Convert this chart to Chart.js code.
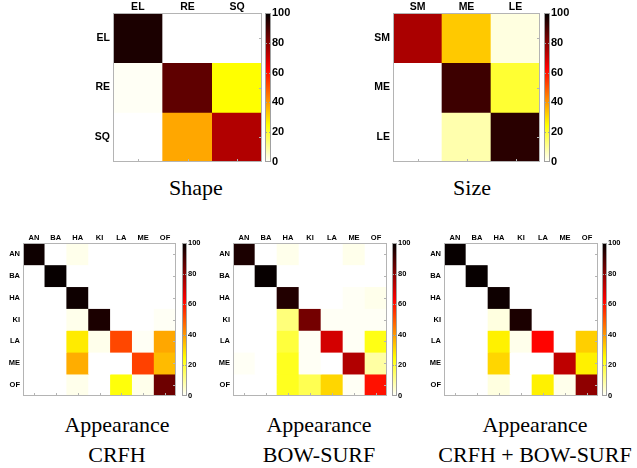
<!DOCTYPE html>
<html>
<head>
<meta charset="utf-8">
<script src="https://cdn.jsdelivr.net/npm/chart.js@4.4.1/dist/chart.umd.min.js"></script>
<style>
  body { margin: 0; background: #fff; }
  #page { position: relative; width: 637px; height: 468px; overflow: hidden; }
  canvas { position: absolute; }
  .title { position: absolute; font-family: "Liberation Serif", "DejaVu Serif", serif;
           font-size: 22px; line-height: 30px; text-align: center; color: #000; white-space: nowrap; }
</style>
</head>
<body>
<div id="page">
  <canvas id="shape"></canvas>
  <canvas id="size"></canvas>
  <canvas id="crfh"></canvas>
  <canvas id="bow"></canvas>
  <canvas id="both"></canvas>
  <div class="title" style="left:146px;width:100px;top:173px;">Shape</div>
  <div class="title" style="left:422px;width:100px;top:173px;">Size</div>
  <div class="title" style="left:37px;width:160px;top:410px;">Appearance<br>CRFH</div>
  <div class="title" style="left:239px;width:160px;top:410px;">Appearance<br>BOW-SURF</div>
  <div class="title" style="left:435px;width:200px;top:410px;">Appearance<br>CRFH + BOW-SURF</div>
</div>
<script>
// ------------------------- Data -------------------------
const shapeCats = ['EL', 'RE', 'SQ'];
const shapeVals = [
  [96, 0, 0],
  [1, 86, 25],
  [0, 38, 74]
];

const sizeCats = ['SM', 'ME', 'LE'];
const sizeVals = [
  [75, 33, 3],
  [0, 91, 20],
  [0, 8, 94]
];

const appCats = ['AN', 'BA', 'HA', 'KI', 'LA', 'ME', 'OF'];
const crfhVals = [
  [98, 0, 2, 0, 0, 0, 0],
  [0, 99, 0, 0, 0, 0, 0],
  [0, 0, 98, 0, 0, 0, 0],
  [0, 0, 2, 96, 0, 0, 1],
  [0, 0, 28, 2, 52, 1, 38],
  [0, 0, 37, 0, 0, 53, 35],
  [0, 0, 2, 0, 24, 2, 84]
];
const bowVals = [
  [96, 0, 2, 0, 0, 2, 0],
  [0, 99, 0, 0, 0, 0, 0],
  [0, 0, 95, 0, 0, 1, 2],
  [0, 0, 13, 83, 1, 1, 1],
  [0, 0, 19, 1, 69, 1, 23],
  [1, 0, 22, 1, 0, 74, 9],
  [0, 0, 22, 17, 31, 1, 60]
];
const bothVals = [
  [99, 0, 0, 0, 0, 0, 0],
  [0, 99, 0, 0, 0, 0, 0],
  [0, 0, 98, 0, 0, 0, 0],
  [0, 0, 3, 96, 0, 0, 0],
  [0, 0, 27, 2, 62, 0, 32],
  [0, 0, 31, 0, 0, 72, 27],
  [0, 0, 3, 0, 27, 2, 79]
];

const cbTicks = [0, 20, 40, 60, 80, 100];

// ------------------------- Colour map (reversed "hot") -------------------------
function heat(v) {
  const t = 1 - v / 100;
  const c = x => Math.max(0, Math.min(1, x));
  const r = c(t / 0.375), g = c((t - 0.375) / 0.375), b = c((t - 0.75) / 0.25);
  return `rgb(${Math.round(r * 255)},${Math.round(g * 255)},${Math.round(b * 255)})`;
}

// frame, side ticks and colour bar
const framePlugin = {
  id: 'frame',
  afterDatasetsDraw(chart, args, opts) {
    const { ctx, chartArea: a, scales } = chart;
    ctx.save();
    ctx.strokeStyle = '#b4b4b4';
    ctx.lineWidth = 1;
    ctx.strokeRect(a.left + 0.5, a.top + 0.5, a.right - a.left - 1, a.bottom - a.top - 1);
    ctx.beginPath();
    scales.x.ticks.forEach((t, i) => {
      const x = Math.round(scales.x.getPixelForTick(i)) + 0.5;
      ctx.moveTo(x, a.bottom); ctx.lineTo(x, a.bottom - 3);
    });
    scales.y.ticks.forEach(t => {
      const y = Math.round(scales.y.getPixelForValue(t.value)) + 0.5;
      ctx.moveTo(a.right, y); ctx.lineTo(a.right - 3, y);
    });
    ctx.stroke();

    const cb = scales.cb;
    const y0 = cb.getPixelForValue(0), y1 = cb.getPixelForValue(100);
    const x0 = a.right + opts.gap;
    const grad = ctx.createLinearGradient(0, y0, 0, y1);
    [0, 25, 62.5, 100].forEach(v => grad.addColorStop(v / 100, heat(v)));
    ctx.fillStyle = grad;
    ctx.fillRect(x0, y1, opts.barW, y0 - y1);
    ctx.strokeStyle = '#a0a0a0';
    ctx.strokeRect(x0 + 0.5, y1 + 0.5, opts.barW - 1, y0 - y1 - 1);
    ctx.beginPath();
    cbTicks.slice(1, -1).forEach(v => {
      const y = Math.round(cb.getPixelForValue(v)) + 0.5;
      ctx.moveTo(x0 + opts.barW, y); ctx.lineTo(x0 + opts.barW - 2, y);
      ctx.moveTo(x0, y); ctx.lineTo(x0 + 2, y);
    });
    ctx.stroke();
    ctx.restore();
  }
};

// ------------------------- Panels -------------------------
function makePanel(id, cats, vals, p) {
  const el = document.getElementById(id);
  el.style.left = p.left + 'px';
  el.style.top = p.top + 'px';
  el.width = p.w; el.height = p.h;
  el.style.width = p.w + 'px'; el.style.height = p.h + 'px';

  const yWidth = p.areaLeft - p.left;
  const xHeight = p.areaTop - p.top;
  const cbWidth = p.left + p.w - (p.areaLeft + p.areaW);
  const padBottom = p.top + p.h - (p.areaTop + p.areaH);
  const font = { family: '"Liberation Sans", Arial, sans-serif', weight: 'bold', size: p.font };

  const datasets = vals.map((row, r) => ({
    data: row.map(() => [r - 0.5, r + 0.5]),
    backgroundColor: row.map(heat),
    borderWidth: 0,
    grouped: false,
    barPercentage: 1,
    categoryPercentage: 1,
    yAxisID: 'y'
  }));

  return new Chart(el, {
    type: 'bar',
    data: { labels: cats, datasets },
    plugins: [framePlugin],
    options: {
      responsive: false,
      animation: false,
      events: [],
      layout: { padding: { left: 0, right: 0, top: 0, bottom: padBottom } },
      plugins: { legend: { display: false }, tooltip: { enabled: false },
                 frame: { gap: p.gap, barW: p.barW } },
      scales: {
        x: {
          type: 'category', position: 'top',
          grid: { display: false, drawTicks: false },
          border: { display: false },
          ticks: { color: '#000', font, padding: p.xPad, maxRotation: 0 },
          afterFit: s => { s.height = xHeight; s.paddingLeft = 0; s.paddingRight = 0; }
        },
        y: {
          type: 'linear', position: 'left', reverse: true,
          min: -0.5, max: cats.length - 0.5,
          grid: { display: false, drawTicks: false },
          border: { display: false },
          afterBuildTicks: s => { s.ticks = cats.map((c, i) => ({ value: i })); },
          ticks: { color: '#000', font, padding: 3, callback: v => cats[v] },
          afterFit: s => { s.width = yWidth; s.paddingTop = 0; s.paddingBottom = 0; }
        },
        cb: {
          type: 'linear', position: 'right', min: 0, max: 100,
          grid: { display: false, drawTicks: false },
          border: { display: false },
          afterBuildTicks: s => { s.ticks = cbTicks.map(v => ({ value: v })); },
          ticks: { color: '#000', font: Object.assign({}, font, { size: p.cbFont }),
                   padding: p.gap + p.barW + 1 },
          afterFit: s => { s.width = cbWidth; s.paddingTop = 0; s.paddingBottom = 0; }
        }
      }
    }
  });
}

makePanel('shape', shapeCats, shapeVals,
  { left: 60, top: 0, w: 240, h: 172, areaLeft: 113, areaTop: 13, areaW: 149, areaH: 149,
    gap: 3, barW: 6, font: 10.5, cbFont: 11, xPad: 0 });
makePanel('size', sizeCats, sizeVals,
  { left: 340, top: 0, w: 240, h: 172, areaLeft: 393, areaTop: 13, areaW: 147, areaH: 149,
    gap: 4, barW: 6, font: 10.5, cbFont: 11, xPad: 0 });
makePanel('crfh', appCats, crfhVals,
  { left: 0, top: 225, w: 208, h: 180, areaLeft: 23, areaTop: 243, areaW: 153, areaH: 153,
    gap: 6, barW: 5, font: 7.5, cbFont: 7.5, xPad: 1 });
makePanel('bow', appCats, bowVals,
  { left: 210, top: 225, w: 208, h: 180, areaLeft: 233, areaTop: 243, areaW: 154, areaH: 153,
    gap: 5, barW: 5, font: 7.5, cbFont: 7.5, xPad: 1 });
makePanel('both', appCats, bothVals,
  { left: 421, top: 225, w: 216, h: 180, areaLeft: 444, areaTop: 243, areaW: 154, areaH: 153,
    gap: 4, barW: 5, font: 7.5, cbFont: 7.5, xPad: 1 });
</script>
</body>
</html>
